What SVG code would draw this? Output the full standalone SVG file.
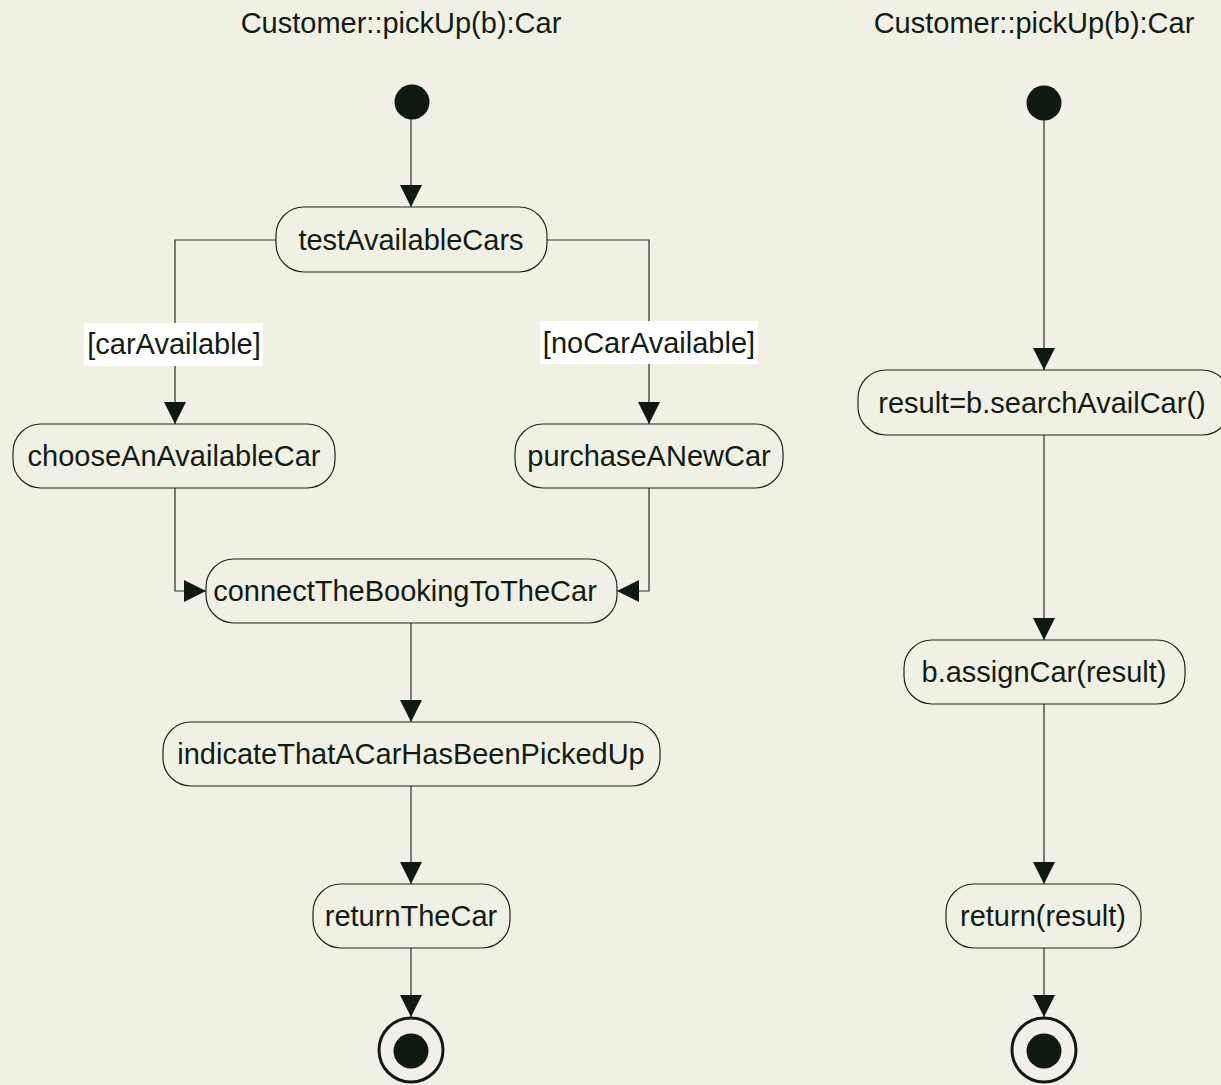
<svg xmlns="http://www.w3.org/2000/svg" width="1221" height="1085" viewBox="0 0 1221 1085">
<defs>
<marker id="ah" markerUnits="userSpaceOnUse" markerWidth="22" markerHeight="22" refX="22" refY="11" orient="auto">
<path d="M0,0 L22,11 L0,22 z" fill="#111a10"/>
</marker>
<style>
.bg{fill:#f1f0e5}
.node rect{fill:#f1f0e5;stroke:#1e261c;stroke-width:1.2}
text{font-family:"Liberation Sans",Arial,sans-serif;font-size:29px;fill:#131c12;text-anchor:middle}
.edge{fill:none;stroke:#2a3028;stroke-width:1.2;marker-end:url(#ah)}
.lbl{fill:#ffffff}
.dot{fill:#111a10}
.ring{fill:none;stroke:#111a10;stroke-width:3}
</style>
</defs>
<rect class="bg" x="0" y="0" width="1221" height="1085"/>
<text x="401" y="33">Customer::pickUp(b):Car</text>
<text x="1034" y="33">Customer::pickUp(b):Car</text>
<g id="connectors">
<path class="edge" d="M411,118 L411,207"/>
<path class="edge" d="M276,240 L175,240 L175,424"/>
<path class="edge" d="M547,240 L649,240 L649,424"/>
<path class="edge" d="M175,488 L175,591 L206,591"/>
<path class="edge" d="M649,488 L649,591 L617,591"/>
<path class="edge" d="M411,623 L411,722"/>
<path class="edge" d="M411,786 L411,884"/>
<path class="edge" d="M411,948 L411,1017"/>
<path class="edge" d="M1044,119 L1044,370"/>
<path class="edge" d="M1044,435 L1044,640"/>
<path class="edge" d="M1044,704 L1044,884"/>
<path class="edge" d="M1044,948 L1044,1017"/>
<rect class="lbl" x="84" y="323" width="179" height="43"/>
<text x="174" y="354">[carAvailable]</text>
<rect class="lbl" x="540" y="321" width="218" height="43"/>
<text x="649" y="353">[noCarAvailable]</text>
</g>
<g id="start1"><circle class="dot" cx="412" cy="102" r="17.5"/></g>
<g id="start2"><circle class="dot" cx="1044" cy="103" r="17.5"/></g>
<g id="testAvailableCars" class="node"><rect x="276" y="207" width="271" height="65" rx="28"/><text x="411" y="250">testAvailableCars</text></g>
<g id="chooseAnAvailableCar" class="node"><rect x="13" y="424" width="322" height="64" rx="28"/><text x="174" y="466">chooseAnAvailableCar</text></g>
<g id="purchaseANewCar" class="node"><rect x="515" y="424" width="268" height="64" rx="28"/><text x="649" y="466">purchaseANewCar</text></g>
<g id="connectTheBookingToTheCar" class="node"><rect x="206" y="559" width="411" height="64" rx="28"/><text x="405" y="601">connectTheBookingToTheCar</text></g>
<g id="indicateThatACarHasBeenPickedUp" class="node"><rect x="163" y="722" width="497" height="64" rx="28"/><text x="411" y="764">indicateThatACarHasBeenPickedUp</text></g>
<g id="returnTheCar" class="node"><rect x="313" y="884" width="197" height="64" rx="28"/><text x="411" y="926">returnTheCar</text></g>
<g id="end1"><circle class="ring" cx="411" cy="1050" r="32"/><circle class="dot" cx="411" cy="1051" r="17.5"/></g>
<g id="searchAvailCar" class="node"><rect x="858" y="370" width="372" height="65" rx="28"/><text x="1042" y="413">result=b.searchAvailCar()</text></g>
<g id="assignCar" class="node"><rect x="904" y="640" width="281" height="64" rx="28"/><text x="1044" y="682">b.assignCar(result)</text></g>
<g id="returnResult" class="node"><rect x="946" y="884" width="195" height="64" rx="28"/><text x="1043" y="926">return(result)</text></g>
<g id="end2"><circle class="ring" cx="1044" cy="1050" r="32"/><circle class="dot" cx="1044" cy="1051" r="17.5"/></g>
</svg>
